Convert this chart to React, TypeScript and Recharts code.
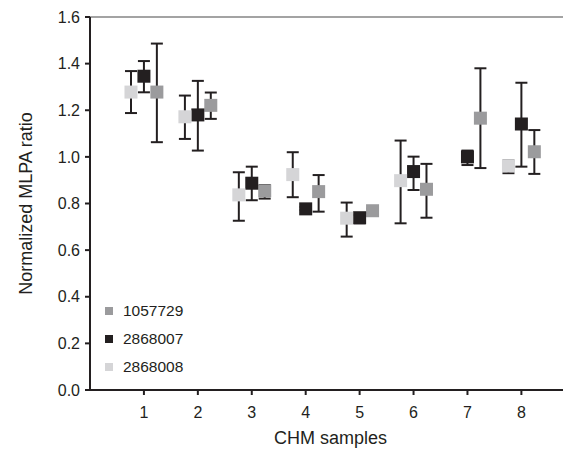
import {
  ScatterChart,
  Scatter,
  XAxis,
  YAxis,
  ErrorBar,
  ReferenceLine,
} from "recharts";

const samples = [1, 2, 3, 4, 5, 6, 7, 8];
const yTicks = [0, 0.2, 0.4, 0.6, 0.8, 1.0, 1.2, 1.4, 1.6];

// 1057729 (medium grey)
const s1057729Mean = [1.278, 1.221, 0.854, 0.851, 0.769, 0.861, 1.166, 1.022];
const s1057729Low = [1.063, 1.163, 0.821, 0.765, 0.76, 0.739, 0.952, 0.927];
const s1057729High = [1.486, 1.276, 0.879, 0.922, 0.778, 0.97, 1.38, 1.115];

// 2868007 (black)
const s2868007Mean = [1.346, 1.18, 0.887, 0.777, 0.739, 0.937, 1.0, 1.141];
const s2868007Low = [1.277, 1.027, 0.814, 0.772, 0.715, 0.858, 0.965, 0.958];
const s2868007High = [1.411, 1.326, 0.958, 0.785, 0.75, 1.001, 1.027, 1.318];

// 2868008 (light grey), no point for sample 7
const s2868008Mean = [1.278, 1.172, 0.837, 0.924, 0.737, 0.898, null, 0.961];
const s2868008Low = [1.188, 1.077, 0.726, 0.827, 0.658, 0.715, null, 0.93];
const s2868008High = [1.368, 1.263, 0.934, 1.02, 0.804, 1.07, null, 0.984];

const FONT = "'Liberation Sans', Arial, sans-serif";
const INK = "#231f20";

const build = (
  mean: (number | null)[],
  low: (number | null)[],
  high: (number | null)[],
  offset: number
) =>
  samples
    .map((s, i) => {
      const m = mean[i];
      if (m == null) return null;
      return {
        x: s + offset,
        y: m,
        err: [m - (low[i] as number), (high[i] as number) - m],
      };
    })
    .filter(Boolean) as { x: number; y: number; err: number[] }[];

const series = [
  {
    name: "1057729",
    color: "#9b9b9d",
    data: build(s1057729Mean, s1057729Low, s1057729High, 0.24),
  },
  {
    name: "2868007",
    color: INK,
    data: build(s2868007Mean, s2868007Low, s2868007High, 0),
  },
  {
    name: "2868008",
    color: "#d5d5d7",
    data: build(s2868008Mean, s2868008Low, s2868008High, -0.24),
  },
];

const squareShape = (color: string) => (props: any) => {
  const { cx, cy } = props;
  if (cx == null || cy == null) return <g />;
  return <rect x={cx - 6.5} y={cy - 6.5} width={13} height={13} fill={color} />;
};

const noShape = () => <g />;

const LegendBox = () => (
  <div
    style={{
      position: "absolute",
      left: 97,
      top: 289,
      fontFamily: FONT,
      fontSize: 15.5,
      color: INK,
    }}
  >
    {series.map((s) => (
      <div
        key={s.name}
        style={{ display: "flex", alignItems: "center", height: 28 }}
      >
        <span
          style={{
            display: "inline-block",
            width: 8,
            height: 8,
            background: s.color,
            marginRight: 10,
          }}
        />
        {s.name}
      </div>
    ))}
  </div>
);

export default function App() {
  return (
    <div style={{ position: "relative", width: 563, height: 443 }}>
      <ScatterChart
        width={563}
        height={443}
        margin={{ top: 9, right: 0, bottom: 0, left: 0 }}
        style={{ fontFamily: FONT }}
      >
        <XAxis
          type="number"
          dataKey="x"
          domain={[0, 8.92]}
          ticks={samples}
          allowDataOverflow
          height={61}
          tickSize={5}
          tickMargin={12}
          axisLine={{ stroke: INK, strokeWidth: 2 }}
          tickLine={{ stroke: INK, strokeWidth: 2 }}
          tick={{ fill: INK, fontSize: 16 }}
          label={{
            value: "CHM samples",
            position: "insideBottom",
            offset: 7,
            fill: INK,
            fontSize: 18,
          }}
        />
        <YAxis
          type="number"
          dataKey="y"
          domain={[0, 1.6]}
          ticks={yTicks}
          width={82}
          tickSize={5}
          tickMargin={5}
          tickFormatter={(v: number) => v.toFixed(1)}
          axisLine={{ stroke: INK, strokeWidth: 2 }}
          tickLine={{ stroke: INK, strokeWidth: 2 }}
          tick={{ fill: INK, fontSize: 16 }}
          label={{
            value: "Normalized MLPA ratio",
            angle: -90,
            position: "insideLeft",
            offset: 18,
            fill: INK,
            fontSize: 18,
            style: { textAnchor: "middle" },
          }}
        />
        <ReferenceLine y={1.6} stroke="#a3a3a3" strokeWidth={2} />
        {series.map((s) => (
          <Scatter
            key={`${s.name}-err`}
            data={s.data}
            shape={noShape}
            isAnimationActive={false}
          >
            <ErrorBar
              dataKey="err"
              direction="y"
              width={6}
              stroke={INK}
              strokeWidth={2}
            />
          </Scatter>
        ))}
        {series.map((s) => (
          <Scatter
            key={s.name}
            name={s.name}
            data={s.data}
            fill={s.color}
            shape={squareShape(s.color)}
            isAnimationActive={false}
          />
        ))}
      </ScatterChart>
      <LegendBox />
    </div>
  );
}
